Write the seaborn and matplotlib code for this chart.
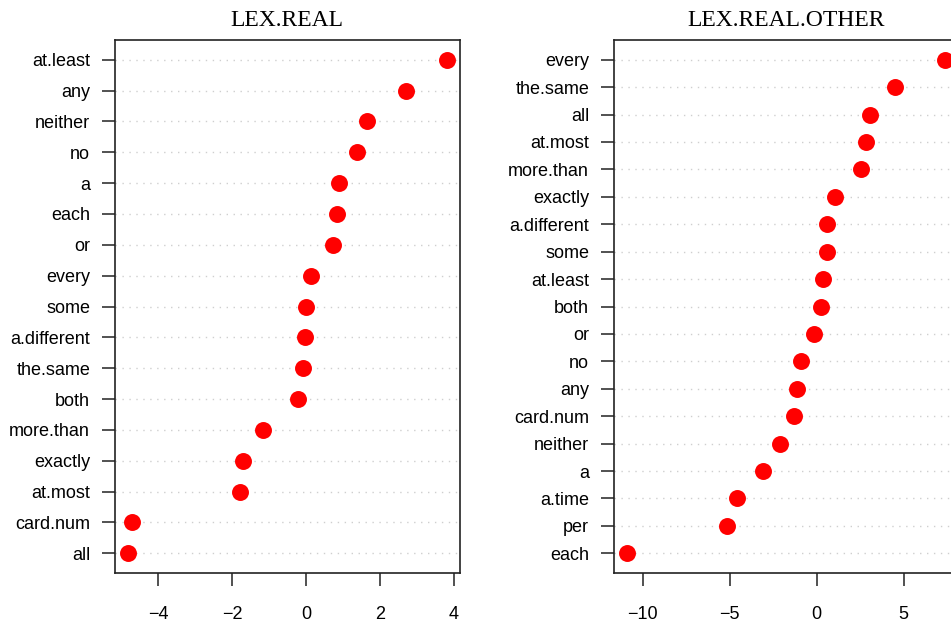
import matplotlib
matplotlib.use("Agg")
import matplotlib.pyplot as plt
import seaborn as sns
import pandas as pd

sns.set_style("white")
plt.rcParams['font.family'] = ['Liberation Sans', 'DejaVu Sans']
plt.rcParams['text.color'] = 'black'

left_title = "LEX.REAL"
left_labels = ["at.least", "any", "neither", "no", "a", "each", "or", "every",
               "some", "a.different", "the.same", "both", "more.than", "exactly",
               "at.most", "card.num", "all"]
left_values = [3.81, 2.72, 1.66, 1.39, 0.90, 0.85, 0.74, 0.13,
               0.01, -0.03, -0.08, -0.21, -1.15, -1.71,
               -1.77, -4.70, -4.82]

right_title = "LEX.REAL.OTHER"
right_labels = ["every", "the.same", "all", "at.most", "more.than", "exactly",
                "a.different", "some", "at.least", "both", "or", "no", "any",
                "card.num", "neither", "a", "a.time", "per", "each"]
right_values = [7.37, 4.50, 3.06, 2.83, 2.54, 1.07,
                0.61, 0.59, 0.36, 0.27, -0.14, -0.92, -1.11,
                -1.29, -2.09, -3.07, -4.58, -5.14, -10.92]

left_ticks = [-4, -2, 0, 2, 4]
right_ticks = [-10, -5, 0, 5]

W, H = 951, 622
fig = plt.figure(figsize=(W / 100, H / 100), dpi=100)

def frac(x0, x1, ytop, ybot):
    return [x0 / W, (H - ybot) / H, (x1 - x0) / W, (ybot - ytop) / H]

ax1 = fig.add_axes(frac(115, 459.5, 40, 573))
ax2 = fig.add_axes(frac(614, 957.6, 40, 573))

def draw(ax, labels, values, title, ticks):
    n = len(labels)
    df = pd.DataFrame({"label": labels, "value": values})
    for i in range(n):
        ax.axhline(i, color="#CFCFCF", linestyle=(0, (1, 4)), linewidth=1.0,
                   zorder=1)
    sns.stripplot(data=df, x="value", y="label", orient="h", jitter=False,
                  color="#FF0000", size=12.2, linewidth=0, ax=ax, zorder=3)
    ax.set_xticks(ticks)
    ax.set_xticklabels([("\u2212" + str(abs(t))) if t < 0 else str(t) for t in ticks])
    vmin, vmax = min(values), max(values)
    span = vmax - vmin
    ax.set_xlim(vmin - 0.04 * span, vmax + 0.04 * span)
    m = 0.04 * (n - 1)
    ax.set_ylim(n - 1 + m, -m)
    ax.set_xlabel("")
    ax.set_ylabel("")
    ax.set_title(title, family="Liberation Serif", fontsize=17, pad=10,
                 color="black")
    ax.tick_params(axis="both", direction="out", length=9.4, width=1.2,
                   color="#333333", labelsize=13, labelcolor="black",
                   bottom=True, left=True)
    ax.tick_params(axis="y", pad=8.5)
    ax.tick_params(axis="x", pad=14.5)
    for s in ax.spines.values():
        s.set_visible(True)
        s.set_color("#222222")
        s.set_linewidth(1.2)

draw(ax1, left_labels, left_values, left_title, left_ticks)
draw(ax2, right_labels, right_values, right_title, right_ticks)

fig.savefig("out.png", dpi=100)
